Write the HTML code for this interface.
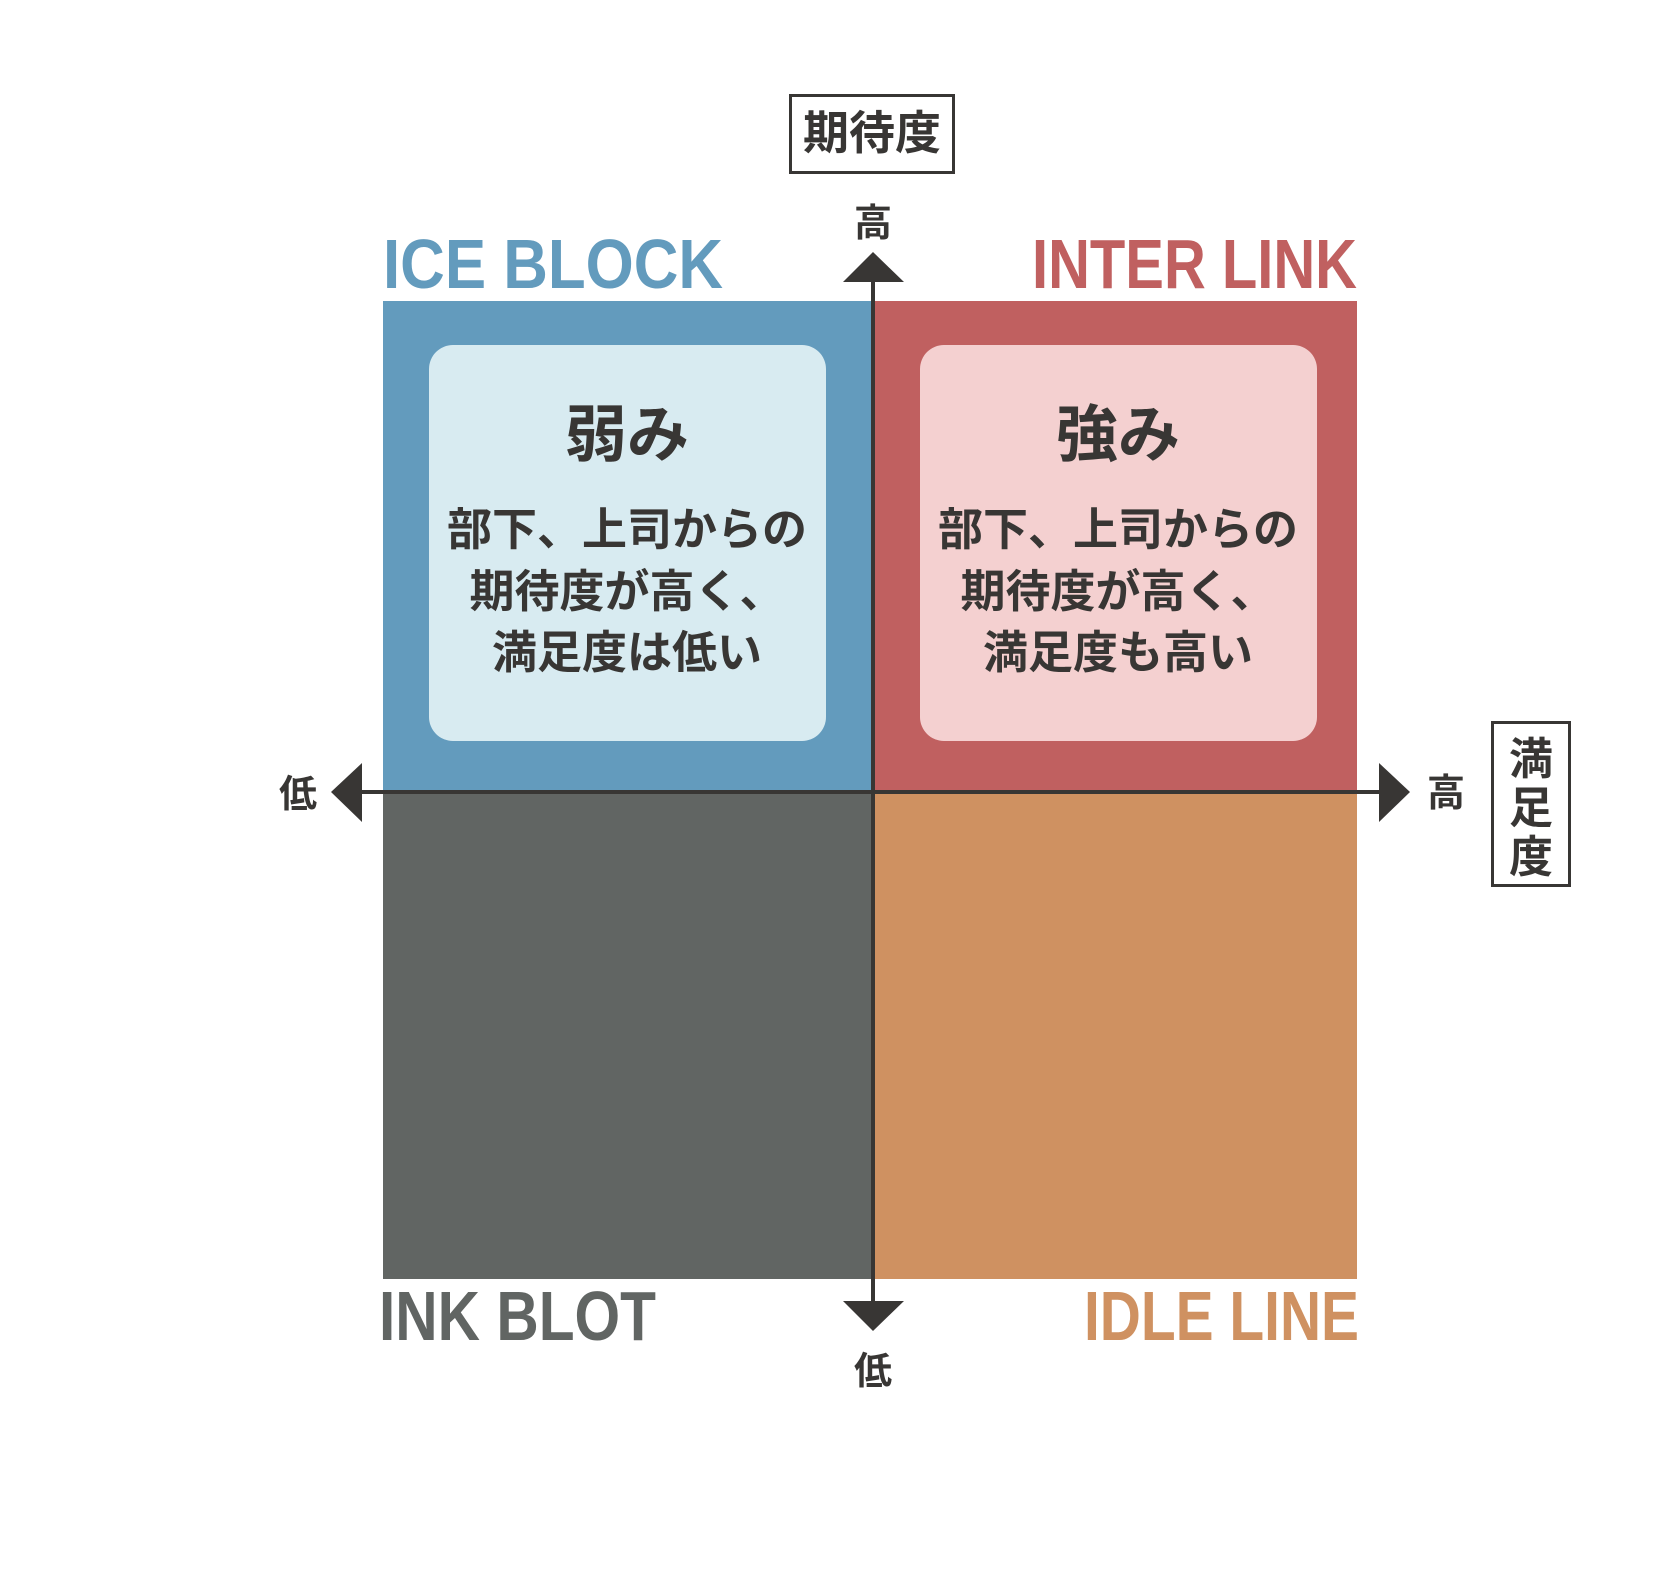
<!DOCTYPE html>
<html><head><meta charset="utf-8"><style>
html,body{margin:0;padding:0;background:#fff;}
svg{display:block;}
text{font-family:"Liberation Sans","Noto Sans CJK JP",sans-serif;font-weight:bold;}
</style></head><body>
<svg width="1659" height="1581" viewBox="0 0 1659 1581" xmlns="http://www.w3.org/2000/svg">
<rect x="383" y="301" width="490" height="491" fill="#639bbd"/>
<rect x="873" y="301" width="484" height="491" fill="#c06060"/>
<rect x="383" y="792" width="490" height="487" fill="#616563"/>
<rect x="873" y="792" width="484" height="487" fill="#cf9161"/>
<rect x="429" y="345" width="397" height="396" rx="24" fill="#d8ebf1"/>
<rect x="920" y="345" width="397" height="396" rx="24" fill="#f4d0d0"/>
<g fill="#383634">
<rect x="871" y="280" width="4" height="1023"/>
<rect x="360" y="790" width="1021" height="4"/>
<polygon points="873,252 843,282 904,282"/>
<polygon points="873,1331 843,1301 904,1301"/>
<polygon points="1410,792 1379,763 1379,822"/>
<polygon points="331,792 362,763 362,822"/>
</g>
<rect x="790.5" y="95.5" width="163" height="77" fill="none" stroke="#383634" stroke-width="3"/>
<rect x="1492.5" y="722.5" width="77" height="163" fill="none" stroke="#383634" stroke-width="3"/>
<g fill="#383634" text-anchor="middle">
<text x="872" y="149" font-size="46">期待度</text>
<text x="873" y="236" font-size="38">高</text>
<text x="873" y="1384" font-size="38">低</text>
<text x="298" y="807" font-size="38">低</text>
<text x="1446" y="806" font-size="38">高</text>
<text x="1531" y="774" font-size="44">満</text>
<text x="1531" y="823" font-size="44">足</text>
<text x="1531" y="872" font-size="44">度</text>
<text x="627" y="456" font-size="62">弱み</text>
<text x="1118" y="456" font-size="62">強み</text>
<text x="627" y="545" font-size="45">部下、上司からの</text>
<text x="627" y="607" font-size="45">期待度が高く、</text>
<text x="627" y="668" font-size="45">満足度は低い</text>
<text x="1118" y="545" font-size="45">部下、上司からの</text>
<text x="1118" y="607" font-size="45">期待度が高く、</text>
<text x="1118" y="668" font-size="45">満足度も高い</text>
</g>
<text x="383" y="288" font-size="70" fill="#639bbd" textLength="340" lengthAdjust="spacingAndGlyphs">ICE BLOCK</text>
<text x="1032" y="288" font-size="70" fill="#c06060" textLength="325" lengthAdjust="spacingAndGlyphs">INTER LINK</text>
<text x="379" y="1340" font-size="70" fill="#616563" textLength="277" lengthAdjust="spacingAndGlyphs">INK BLOT</text>
<text x="1084" y="1340" font-size="70" fill="#cf9161" textLength="275" lengthAdjust="spacingAndGlyphs">IDLE LINE</text>
</svg>
</body></html>
